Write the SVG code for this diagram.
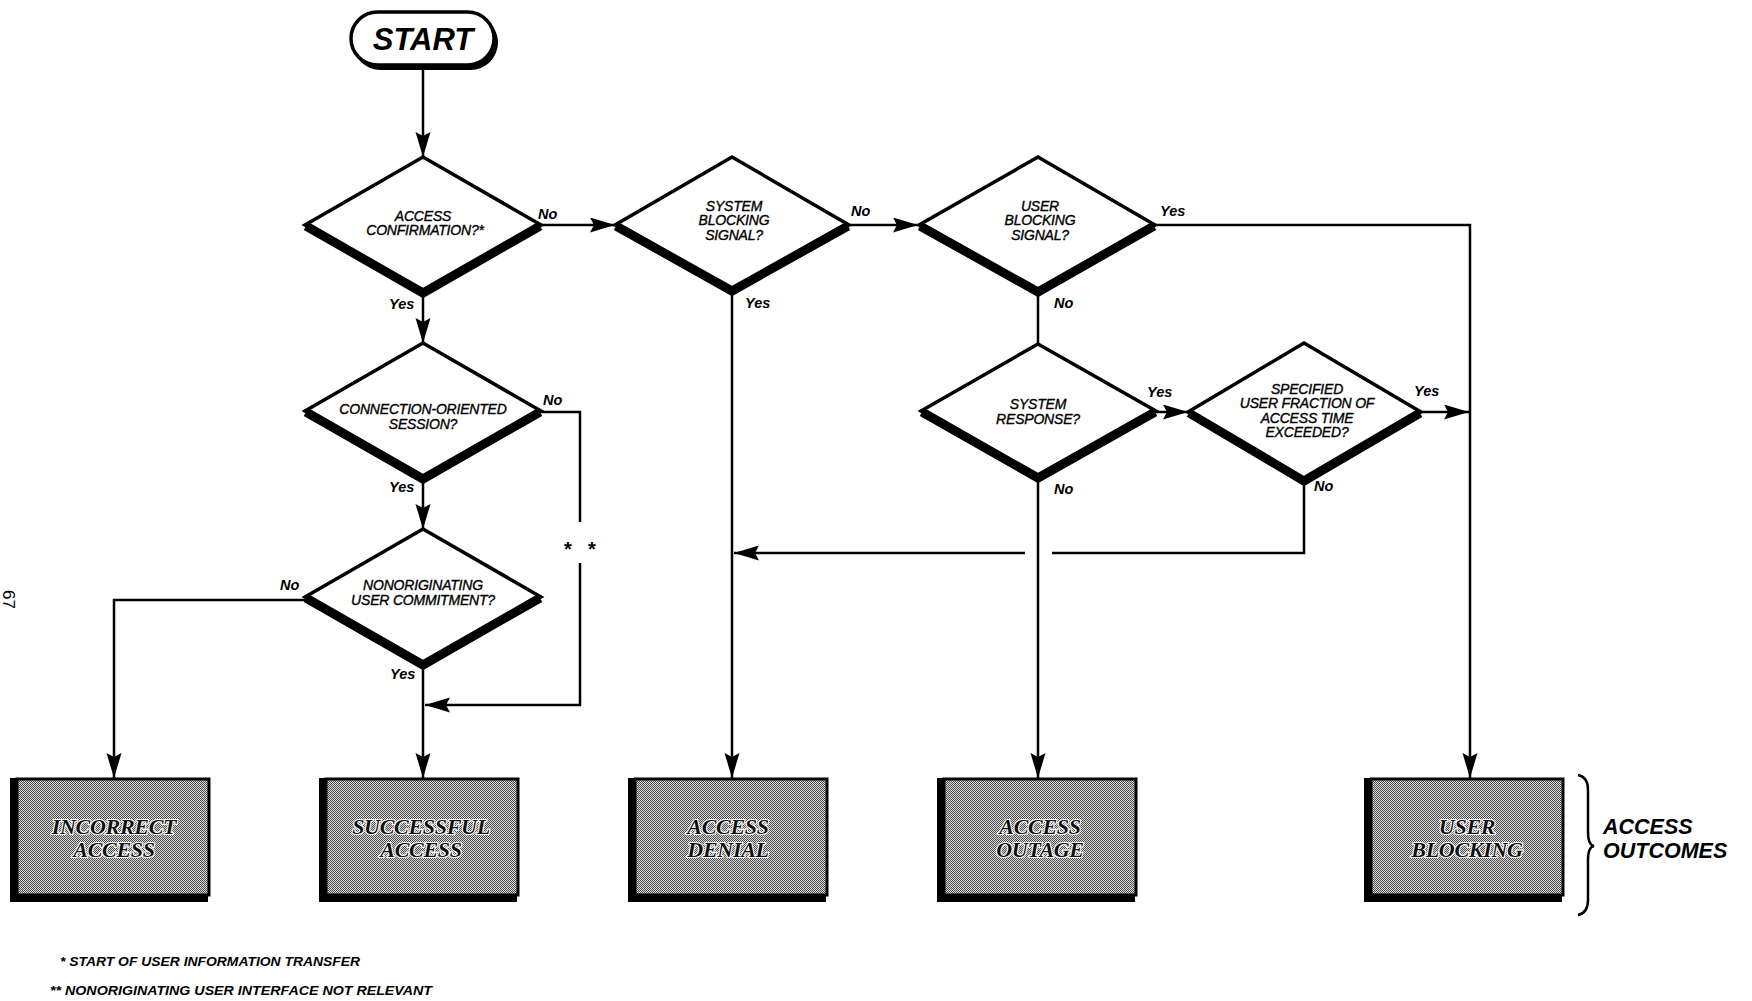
<svg xmlns="http://www.w3.org/2000/svg" width="1752" height="1001" viewBox="0 0 1752 1001">
  <defs>
    <marker id="arrow" markerUnits="userSpaceOnUse" markerWidth="26" markerHeight="16" refX="25" refY="7.5" orient="auto">
      <path d="M0,0 L25,7.5 L0,15 L4,7.5 z" fill="#000"/>
    </marker>
    <pattern id="dither" width="2" height="2" patternUnits="userSpaceOnUse">
      <rect width="2" height="2" fill="#dcdcdc"/>
      <rect width="1" height="1" fill="#4a4a4a"/>
      <rect x="1" y="1" width="1" height="1" fill="#4a4a4a"/>
    </pattern>
    <style>
      .line { fill: none; stroke: #000; stroke-width: 2.5; }
      .dia { fill: #fff; stroke: #000; stroke-width: 3.5; stroke-linejoin: miter; }
      .dia-shadow { fill: none; stroke: #000; stroke-width: 9; stroke-linejoin: miter; stroke-miterlimit: 8; }
      .qtext { font-family: "Liberation Sans", Arial, sans-serif; font-style: italic; font-size: 14px; text-anchor: middle; fill: #000; stroke: #000; stroke-width: 0.35px; letter-spacing: -0.2px; }
      .lbl { font-family: "Liberation Sans", Arial, sans-serif; font-style: italic; font-weight: bold; font-size: 14.5px; fill: #000; }
      .stars { font-family: "Liberation Sans", Arial, sans-serif; font-weight: bold; font-size: 20px; fill: #000; text-anchor: middle; }
      .box { fill: url(#dither); stroke: #000; stroke-width: 3; }
      .box-shadow { fill: #000; }
      .btext { font-family: "Liberation Serif", "Times New Roman", serif; font-style: italic; font-weight: bold; font-size: 22px; text-anchor: middle; fill: #111; stroke: #fff; stroke-width: 2.2px; paint-order: stroke; letter-spacing: -0.3px; }
      .note { font-family: "Liberation Sans", Arial, sans-serif; font-style: italic; font-weight: bold; font-size: 13.5px; fill: #000; }
      .outcome { font-family: "Liberation Sans", Arial, sans-serif; font-style: italic; font-weight: bold; font-size: 21.5px; fill: #000; }
    </style>
  </defs>

  <rect width="1752" height="1001" fill="#fff"/>

  <!-- page number -->
  <text transform="translate(3,590) rotate(90)" style="font-family:'Liberation Sans',Arial,sans-serif;font-size:17px;fill:#000">67</text>

  <!-- connectors -->
  <g id="connectors">
    <path class="line" d="M423,69 V157" marker-end="url(#arrow)"/>
    <path class="line" d="M541,225 H615" marker-end="url(#arrow)"/>
    <path class="line" d="M849,225 H918" marker-end="url(#arrow)"/>
    <path class="line" d="M1155,225 H1470 V778" marker-end="url(#arrow)"/>
    <path class="line" d="M423,293 V343" marker-end="url(#arrow)"/>
    <path class="line" d="M423,479 V529" marker-end="url(#arrow)"/>
    <path class="line" d="M423,665 V778" marker-end="url(#arrow)"/>
    <path class="line" d="M541,412 H580 V522"/>
    <path class="line" d="M580,563 V705 H425" marker-end="url(#arrow)"/>
    <path class="line" d="M305,600 H114 V778" marker-end="url(#arrow)"/>
    <path class="line" d="M732,291 V778" marker-end="url(#arrow)"/>
    <path class="line" d="M1038,292 V344"/>
    <path class="line" d="M1156,412 H1188" marker-end="url(#arrow)"/>
    <path class="line" d="M1421,412 H1469" marker-end="url(#arrow)"/>
    <path class="line" d="M1038,478 V778" marker-end="url(#arrow)"/>
    <path class="line" d="M1304,481 V553 H1052"/>
    <path class="line" d="M1025,553 H734" marker-end="url(#arrow)"/>
  </g>

  <!-- start terminal -->
  <g id="start">
    <rect x="353" y="15" width="145" height="55" rx="27.5" fill="#000"/>
    <rect x="351" y="12" width="143" height="53" rx="26.5" fill="#fff" stroke="#000" stroke-width="3.5"/>
    <text x="423" y="50" style="font-family:'Liberation Sans',Arial,sans-serif;font-style:italic;font-weight:bold;font-size:31px;text-anchor:middle">START</text>
  </g>

  <!-- decisions -->
  <g id="access-confirmation">
    <polygon class="dia" points="423,157 541,225 423,293 305,225"/>
    <polyline class="dia-shadow" points="306,226 423,293 540,226"/>
    <text class="qtext" x="423" y="221">ACCESS</text>
    <text class="qtext" x="425" y="235">CONFIRMATION?*</text>
    <text class="lbl" x="538" y="219">No</text>
    <text class="lbl" x="389" y="309">Yes</text>
  </g>

  <g id="system-blocking">
    <polygon class="dia" points="732,157 849,225 732,291 615,225"/>
    <polyline class="dia-shadow" points="616,226 732,291 848,226"/>
    <text class="qtext" x="734" y="211">SYSTEM</text>
    <text class="qtext" x="734" y="225">BLOCKING</text>
    <text class="qtext" x="734" y="240">SIGNAL?</text>
    <text class="lbl" x="851" y="216">No</text>
    <text class="lbl" x="745" y="308">Yes</text>
  </g>

  <g id="user-blocking-signal">
    <polygon class="dia" points="1038,157 1155,225 1038,292 919,225"/>
    <polyline class="dia-shadow" points="920,226 1038,292 1154,226"/>
    <text class="qtext" x="1040" y="211">USER</text>
    <text class="qtext" x="1040" y="225">BLOCKING</text>
    <text class="qtext" x="1040" y="240">SIGNAL?</text>
    <text class="lbl" x="1160" y="216">Yes</text>
    <text class="lbl" x="1054" y="308">No</text>
  </g>

  <g id="connection-oriented">
    <polygon class="dia" points="423,343 541,411 423,479 305,411"/>
    <polyline class="dia-shadow" points="306,412 423,479 540,412"/>
    <text class="qtext" x="423" y="414">CONNECTION-ORIENTED</text>
    <text class="qtext" x="423" y="429">SESSION?</text>
    <text class="lbl" x="543" y="405">No</text>
    <text class="lbl" x="389" y="492">Yes</text>
    <text class="stars" x="568" y="556">*</text>
    <text class="stars" x="592" y="556">*</text>
  </g>

  <g id="nonoriginating-commitment">
    <polygon class="dia" points="423,529 541,597 423,665 305,597"/>
    <polyline class="dia-shadow" points="306,598 423,665 540,598"/>
    <text class="qtext" x="423" y="590">NONORIGINATING</text>
    <text class="qtext" x="423" y="605">USER COMMITMENT?</text>
    <text class="lbl" x="280" y="590">No</text>
    <text class="lbl" x="390" y="679">Yes</text>
  </g>

  <g id="system-response">
    <polygon class="dia" points="1038,344 1156,411 1038,478 921,411"/>
    <polyline class="dia-shadow" points="922,412 1038,478 1155,412"/>
    <text class="qtext" x="1038" y="409">SYSTEM</text>
    <text class="qtext" x="1038" y="424">RESPONSE?</text>
    <text class="lbl" x="1147" y="397">Yes</text>
    <text class="lbl" x="1054" y="494">No</text>
  </g>

  <g id="fraction-exceeded">
    <polygon class="dia" points="1304,343 1421,412 1304,481 1188,412"/>
    <polyline class="dia-shadow" points="1189,413 1304,481 1420,413"/>
    <text class="qtext" x="1307" y="394">SPECIFIED</text>
    <text class="qtext" x="1307" y="408">USER FRACTION OF</text>
    <text class="qtext" x="1307" y="423">ACCESS TIME</text>
    <text class="qtext" x="1307" y="437">EXCEEDED?</text>
    <text class="lbl" x="1414" y="396">Yes</text>
    <text class="lbl" x="1314" y="491">No</text>
  </g>

  <!-- access outcomes -->
  <g id="incorrect-access">
    <rect class="box-shadow" x="10" y="778" width="198" height="124"/>
    <rect class="box" x="17" y="779" width="192" height="116"/>
    <text class="btext" x="114" y="834">INCORRECT</text>
    <text class="btext" x="114" y="857">ACCESS</text>
  </g>
  <g id="successful-access">
    <rect class="box-shadow" x="319" y="778" width="198" height="124"/>
    <rect class="box" x="326" y="779" width="192" height="116"/>
    <text class="btext" x="421" y="834">SUCCESSFUL</text>
    <text class="btext" x="421" y="857">ACCESS</text>
  </g>
  <g id="access-denial">
    <rect class="box-shadow" x="628" y="778" width="198" height="124"/>
    <rect class="box" x="635" y="779" width="192" height="116"/>
    <text class="btext" x="728" y="834">ACCESS</text>
    <text class="btext" x="728" y="857">DENIAL</text>
  </g>
  <g id="access-outage">
    <rect class="box-shadow" x="937" y="778" width="198" height="124"/>
    <rect class="box" x="944" y="779" width="192" height="116"/>
    <text class="btext" x="1040" y="834">ACCESS</text>
    <text class="btext" x="1040" y="857">OUTAGE</text>
  </g>
  <g id="user-blocking">
    <rect class="box-shadow" x="1364" y="778" width="198" height="124"/>
    <rect class="box" x="1371" y="779" width="192" height="116"/>
    <text class="btext" x="1467" y="834">USER</text>
    <text class="btext" x="1467" y="857">BLOCKING</text>
  </g>

  <!-- brace and caption for the outcome row -->
  <g id="outcomes-label">
    <path d="M1578,775 Q1588,777 1588,790 V832 Q1588,845 1594,846 Q1588,847 1588,860 V900 Q1588,913 1578,915" fill="none" stroke="#000" stroke-width="2.5"/>
    <text class="outcome" x="1603" y="834">ACCESS</text>
    <text class="outcome" x="1603" y="858">OUTCOMES</text>
  </g>

  <!-- footnotes -->
  <g id="footnotes">
    <text class="note" x="60" y="966" textLength="300" lengthAdjust="spacingAndGlyphs">* START OF USER INFORMATION TRANSFER</text>
    <text class="note" x="50" y="995" textLength="382" lengthAdjust="spacingAndGlyphs">** NONORIGINATING USER INTERFACE NOT RELEVANT</text>
  </g>
</svg>
